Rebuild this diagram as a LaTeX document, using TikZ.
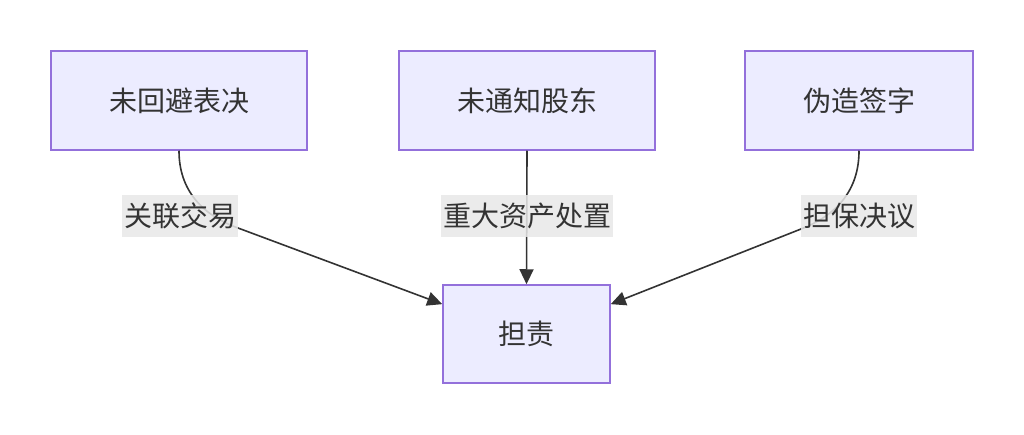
\documentclass[tikz,border=0pt]{standalone}
\usepackage{fontspec}
\setmainfont{Noto Sans CJK SC}
\usetikzlibrary{arrows.meta,calc}
\definecolor{nodefill}{HTML}{ECECFF}
\definecolor{nodeline}{HTML}{9370DB}
\definecolor{ink}{HTML}{333333}
\definecolor{lblbg}{HTML}{E8E8E8}
\tikzset{
  box/.style={draw=nodeline, fill=nodefill, line width=1.5pt, text=ink,
    minimum height=99pt, font=\fontsize{28}{33}\selectfont, inner sep=0pt},
  lbl/.style={fill=lblbg, fill opacity=0.85, text opacity=1, text=ink,
    font=\fontsize{28}{33}\selectfont, inner xsep=2pt, inner ysep=0pt, minimum height=42pt},
  edge/.style={draw=ink, line width=1.6pt, -{Triangle[length=15pt,width=14pt]}}
}
\begin{document}
\begin{tikzpicture}[x=1pt,y=-1pt]
\useasboundingbox (0,0) rectangle (1024,435);
\node[box, minimum width=256pt] (A) at (179,100.5) {未回避表决};
\node[box, minimum width=256pt] (B) at (527,100.5) {未通知股东};
\node[box, minimum width=228pt] (C) at (859,100.5) {伪造签字};
\node[box, minimum width=167pt, minimum height=98pt] (D) at (526.5,334) {担责};
\coordinate (Dw) at ($(D.north west)!0.2!(D.south west)$);
\coordinate (De) at ($(D.north east)!0.2!(D.south east)$);
\coordinate (pa) at (238,228);
\coordinate (pc) at (801,229);
\draw[edge] (A.south) .. controls (179,190) and (202,215) .. (pa) -- (Dw);
\draw[edge] (B.south) -- (D.north);
\draw[edge] (C.south) .. controls (859,190) and (837,215) .. (pc) -- (De);
\node[lbl] (la) at (180,216) {关联交易};
\node[lbl] (lb) at (527,216) {重大资产处置};
\node[lbl] (lc) at (859,216) {担保决议};
\end{tikzpicture}
\end{document}
